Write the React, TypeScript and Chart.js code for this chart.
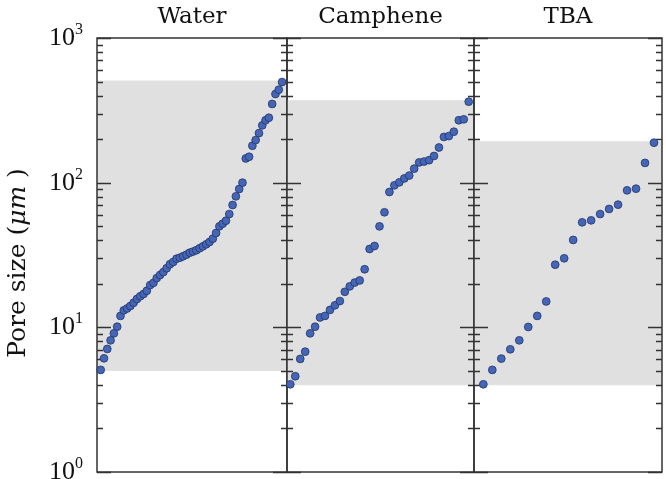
import React, { useEffect, useRef } from 'react';
import { Chart, registerables } from 'chart.js';

Chart.register(...registerables);

const panelTitles = ['Water', 'Camphene', 'TBA'];

const waterValues = [
  5.08, 6.11, 7.09, 8.13, 9.09, 10.1, 12.0, 13.1, 13.5, 14.05, 14.8, 15.7, 16.4, 17.0,
  17.9, 19.6, 20.3, 21.9, 23.0, 24.1, 25.6, 27.3, 28.3, 29.8, 30.3, 31.0, 31.8, 32.8,
  33.4, 34.1, 35.2, 36.3, 37.5, 38.9, 41.0, 44.9, 49.9, 52.1, 54.6, 60.7, 70.1, 80.4,
  90.4, 100, 147, 151, 180, 197, 220, 249, 270, 281, 350, 410, 439, 496,
];

const campheneValues = [
  4.04, 4.59, 6.05, 6.79, 9.09, 10.1, 11.7, 12.0, 13.2, 14.2, 15.2, 17.6, 19.2, 20.4,
  21.1, 25.2, 34.8, 36.5, 49.9, 62.4, 86.2, 95.8, 100.5, 107, 112, 125, 138, 140, 143,
  153, 175, 207, 210, 225, 270, 274, 363,
];

const tbaValues = [
  4.04, 5.08, 6.08, 7.05, 8.13, 10.06, 12.0, 15.1, 27.1, 30.0, 40.2, 53.2, 54.9, 60.7,
  65.8, 70.5, 88.5, 90.9, 137, 189,
];

const yDecadeExponents = [0, 1, 2, 3];
const yMinorMultipliers = [2, 3, 4, 5, 6, 7, 8, 9];
const yAxisTitleParts = [
  { text: 'Pore size (', italic: false },
  { text: 'μm', italic: true },
  { text: ' )', italic: false },
];

const FRAME = '#333333';
const BAND = '#e0e0e0';
const TITLE_FONT = '"DejaVu Serif", serif';
const TICK_FONT = '"Liberation Serif", serif';

const panelPlugin = {
  id: 'panel',
  beforeDatasetsDraw(chart: any, _args: any, opts: any) {
    const { ctx, chartArea: a } = chart;
    const y = chart.scales.y;
    const vals = chart.data.datasets[0].data.map((p: any) => p.y);
    const lo = Math.min(...vals);
    const hi = Math.max(...vals);
    ctx.save();
    const yt = y.getPixelForValue(hi) - 1.5;
    const yb = y.getPixelForValue(lo) + 1;
    ctx.fillStyle = BAND;
    ctx.fillRect(a.left, yt, a.right - a.left, yb - yt);
    ctx.strokeStyle = FRAME;
    ctx.lineWidth = 1.4;
    const tick = (v: number, len: number) => {
      const py = Math.round(y.getPixelForValue(v)) + 0.5;
      ctx.beginPath();
      ctx.moveTo(a.left, py);
      ctx.lineTo(a.left + len, py);
      ctx.moveTo(a.right, py);
      ctx.lineTo(a.right - len, py);
      ctx.stroke();
    };
    yDecadeExponents.forEach((e) => tick(Math.pow(10, e), 14));
    yDecadeExponents.slice(0, -1).forEach((e) =>
      yMinorMultipliers.forEach((m) => tick(m * Math.pow(10, e), 6))
    );
    ctx.lineWidth = 1.5;
    ctx.strokeRect(a.left, a.top, a.right - a.left, a.bottom - a.top);
    ctx.restore();
  },
  afterDraw(chart: any, _args: any, opts: any) {
    const { ctx, chartArea: a } = chart;
    const y = chart.scales.y;
    ctx.save();
    ctx.fillStyle = '#111';
    ctx.font = `23px ${TITLE_FONT}`;
    ctx.textAlign = 'center';
    ctx.textBaseline = 'alphabetic';
    ctx.fillText(opts.title, (a.left + a.right) / 2, 23);
    if (opts.showY) {
      yDecadeExponents.forEach((e) => {
        const py = y.getPixelForValue(Math.pow(10, e));
        const rightEdge = a.left - 14;
        ctx.font = `16px ${TICK_FONT}`;
        const sup = String(e);
        const w2 = ctx.measureText(sup).width;
        ctx.textAlign = 'left';
        ctx.fillText(sup, rightEdge - w2, py - 4);
        ctx.font = `26px ${TICK_FONT}`;
        ctx.textAlign = 'right';
        ctx.fillText('10', rightEdge - w2, py + 7);
      });
      ctx.translate(25, 263);
      ctx.rotate(-Math.PI / 2);
      ctx.textAlign = 'left';
      const fontFor = (it: boolean) => `${it ? 'italic ' : ''}25px ${TITLE_FONT}`;
      let total = 0;
      yAxisTitleParts.forEach((p) => {
        ctx.font = fontFor(p.italic);
        total += ctx.measureText(p.text).width;
      });
      let x = -total / 2;
      yAxisTitleParts.forEach((p) => {
        ctx.font = fontFor(p.italic);
        ctx.fillText(p.text, x, 0);
        x += ctx.measureText(p.text).width;
      });
    }
    ctx.restore();
  },
};

type PanelProps = {
  values: number[];
  title: string;
  left: number;
  width: number;
  padLeft: number;
  xMin: number;
  xMax: number;
  showY: boolean;
};

function Panel({ values, title, left, width, padLeft, xMin, xMax, showY }: PanelProps) {
  const ref = useRef<HTMLCanvasElement | null>(null);
  useEffect(() => {
    if (!ref.current) return;
    const chart = new Chart(ref.current, {
      type: 'scatter',
      data: {
        datasets: [
          {
            data: values.map((v, i) => ({ x: i + 1, y: v })),
            pointRadius: 3.9,
            pointHoverRadius: 3.9,
            pointBackgroundColor: '#4565b6',
            pointBorderColor: '#22356a',
            pointBorderWidth: 0.8,
            clip: false,
          } as any,
        ],
      },
      options: {
        responsive: false,
        maintainAspectRatio: false,
        animation: false,
        devicePixelRatio: 1,
        events: [],
        layout: { autoPadding: false, padding: { left: padLeft, right: 1, top: 38, bottom: 7 } },
        scales: {
          x: { type: 'linear', min: xMin, max: xMax, display: false },
          y: { type: 'logarithmic', min: 1, max: 1000, display: false },
        },
        plugins: {
          legend: { display: false },
          tooltip: { enabled: false },
          panel: { title, showY },
        } as any,
      },
      plugins: [panelPlugin as any],
    });
    return () => chart.destroy();
  }, [values, title, padLeft, xMin, xMax, showY]);
  return (
    <canvas
      ref={ref}
      width={width}
      height={479}
      style={{ position: 'absolute', left, top: 0, width, height: 479 }}
    />
  );
}

export default function App() {
  return (
    <div style={{ position: 'absolute', left: 0, top: 0, width: 666, height: 479, background: '#fff' }}>
      <Panel values={waterValues} title={panelTitles[0]} left={0} width={288} padLeft={97} xMin={-0.12} xMax={57.5} showY={true} />
      <Panel values={campheneValues} title={panelTitles[1]} left={286} width={189} padLeft={1} xMin={0.33} xMax={38.07} showY={false} />
      <Panel values={tbaValues} title={panelTitles[2]} left={473} width={190} padLeft={1} xMin={-0.04} xMax={20.89} showY={false} />
    </div>
  );
}
